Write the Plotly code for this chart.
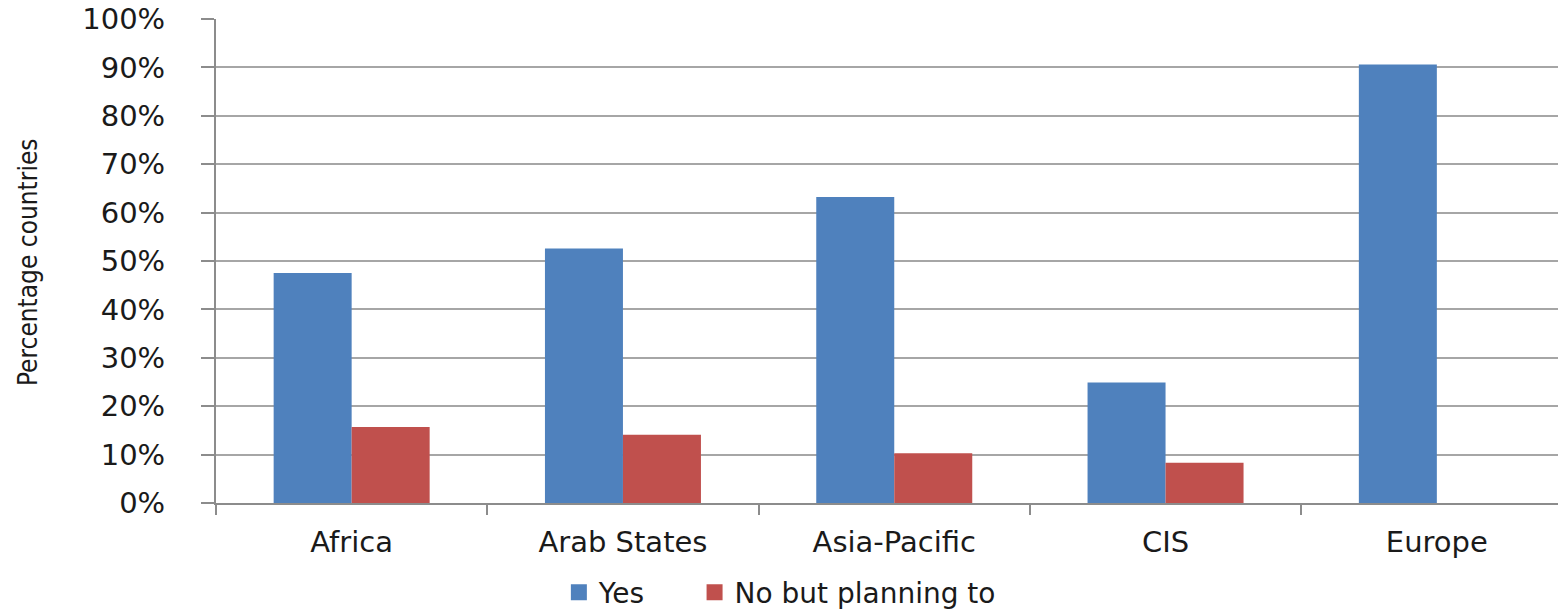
import plotly.graph_objects as go

categories = ["Africa", "Arab States", "Asia-Pacific", "CIS", "Europe"]
yes_values = [47.5, 52.6, 63.2, 24.9, 90.6]
planning_values = [15.7, 14.1, 10.3, 8.3, 0]
series_names = ["Yes", "No but planning to"]
series_colors = ["#4F81BD", "#C0504D"]
y_ticks = list(range(0, 101, 10))
y_tick_labels = [f"{v}%" for v in y_ticks]

W, H = 1558, 614
L, R, T, B = 216, 0, 19, 111
cat_px = 271.3
x_max = (W - L - R) / cat_px - 0.5

fig = go.Figure()
for name, vals, col in zip(series_names, [yes_values, planning_values], series_colors):
    fig.add_trace(go.Bar(x=categories, y=vals, name=name, showlegend=False,
                         legendgroup=name, marker=dict(color=col, line=dict(width=0))))
# legend entries with larger square swatches
for name, col in zip(series_names, series_colors):
    fig.add_trace(go.Scatter(x=[None], y=[None], mode="markers", name=name + "     ",
                             legendgroup=name,
                             marker=dict(symbol="square", size=24, color=col)))

tick_font = dict(family="DejaVu Sans, Verdana, sans-serif", size=29, color="#1a1a1a")
legend_font = dict(family="DejaVu Sans, Verdana, sans-serif", size=28, color="#1a1a1a")

fig.update_layout(
    width=W, height=H,
    margin=dict(l=L, r=R, t=T, b=B, pad=0, autoexpand=False),
    plot_bgcolor="white", paper_bgcolor="white",
    barmode="group", bargap=0.425, bargroupgap=0,
    showlegend=True,
    legend=dict(orientation="h", xref="container", x=0.515, xanchor="center",
                yref="container", y=0.035, yanchor="middle",
                font=legend_font, itemwidth=30, tracegroupgap=0),
    xaxis=dict(
        type="category", range=[-0.5, x_max], automargin=False,
        showline=True, linecolor="#8c8c8c", linewidth=2,
        ticks="outside", tickson="boundaries", ticklen=10, tickwidth=2, tickcolor="#8c8c8c",
        showgrid=False, tickfont=tick_font, ticklabelstandoff=12,
    ),
    yaxis=dict(
        range=[0, 100], tickvals=y_ticks, ticktext=y_tick_labels, automargin=False,
        showline=True, linecolor="#8c8c8c", linewidth=2,
        ticks="outside", ticklen=13, tickwidth=2, tickcolor="#8c8c8c",
        showgrid=True, gridcolor="#a6a6a6", gridwidth=2,
        zeroline=False, tickfont=tick_font, ticklabelstandoff=30,
        ticklabeloverflow="allow",
    ),
    annotations=[dict(
        text="Percentage countries", textangle=-90, showarrow=False,
        xref="paper", yref="paper", x=-0.140, y=0.498,
        xanchor="center", yanchor="middle",
        font=dict(family="DejaVu Sans Condensed, Liberation Sans Narrow, sans-serif",
                  size=26, color="#1a1a1a"),
    )],
)

fig.write_html("out.html", config={"displayModeBar": False},
               post_script="document.body.style.margin='0';")
